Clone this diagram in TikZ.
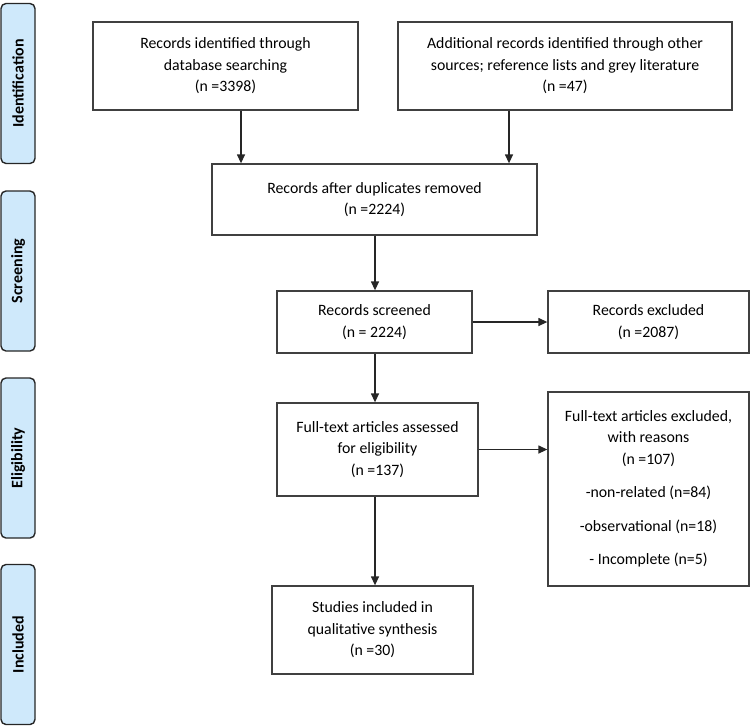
\documentclass[tikz,border=0pt]{standalone}
\usepackage{fontspec}
\setmainfont{Carlito}
\usetikzlibrary{arrows.meta}
\definecolor{sidefill}{HTML}{CFE9FB}
\definecolor{boxline}{HTML}{404040}
\tikzset{
  flowbox/.style={draw=boxline, line width=1.3pt, align=center, inner sep=2pt,
    font=\fontsize{15.8pt}{21.5pt}\selectfont},
  sidebox/.style={draw=black!85, fill=sidefill, line width=1.4pt, rounded corners=5pt,
    minimum width=34pt, minimum height=160pt, inner sep=0pt},
  sidelabel/.style={rotate=90, font=\fontsize{16pt}{18pt}\selectfont\bfseries},
  arr/.style={line width=1.3pt, draw=black!85, -{Triangle[length=9pt,width=8pt]}}
}
\begin{document}
\begin{tikzpicture}[x=1pt,y=1pt]
\useasboundingbox (0,0) rectangle (751,-726);
% side phases
\node[sidebox] (sid) at (18,-83.5) {};
\node[sidelabel] (sidl) at (sid.center) {Identification};
\node[sidebox] (ssc) at (18,-271) {};
\node[sidelabel] (sscl) at (ssc.center) {Screening};
\node[sidebox] (sel) at (18,-458) {};
\node[sidelabel] (sell) at (sel.center) {Eligibility};
\node[sidebox] (sin) at (18,-644.5) {};
\node[sidelabel] (sinl) at (sin.center) {Included};
% boxes
\node[flowbox, minimum width=265pt, minimum height=88pt] (b1) at (225.5,-66)
  {Records identified through\\ database searching\\ (n =3398)};
\node[flowbox, minimum width=334pt, minimum height=88pt] (b2) at (565,-66)
  {Additional records identified through other\\ sources; reference lists and grey literature\\ (n =47)};
\node[flowbox, minimum width=325pt, minimum height=71pt] (dup) at (374.5,-199.5)
  {Records after duplicates removed\\ (n =2224)};
\node[flowbox, minimum width=195pt, minimum height=62pt] (scr) at (374.5,-322)
  {Records screened\\ (n = 2224)};
\node[flowbox, minimum width=201pt, minimum height=62pt] (exc) at (648.5,-322)
  {Records excluded\\ (n =2087)};
\node[flowbox, minimum width=201pt, minimum height=93pt] (ft) at (377.5,-449.5)
  {Full-text articles assessed\\ for eligibility\\ (n =137)};
\node[flowbox, minimum width=201pt, minimum height=194pt] (fte) at (648.5,-489)
  {Full-text articles excluded,\\ with reasons\\ (n =107)\\[12pt] -non-related (n=84)\\[12pt] -observational (n=18)\\[12pt] - Incomplete (n=5)};
\node[flowbox, minimum width=201pt, minimum height=88pt] (inc) at (372.5,-630)
  {Studies included in\\ qualitative synthesis\\ (n =30)};
% connector guides
\coordinate (g1) at (241,0);
\coordinate (g2) at (509,0);
\coordinate (gc) at (375,0);
\draw[arr] (b1.south -| g1) -- (dup.north -| g1);
\draw[arr] (b2.south -| g2) -- (dup.north -| g2);
\draw[arr] (dup.south -| gc) -- (scr.north -| gc);
\draw[arr] (scr.east) -- (exc.west);
\draw[arr] (scr.south -| gc) -- (ft.north -| gc);
\draw[arr] (ft.east) -- (ft.east -| fte.west);
\draw[arr] (ft.south -| gc) -- (inc.north -| gc);
\end{tikzpicture}
\end{document}
